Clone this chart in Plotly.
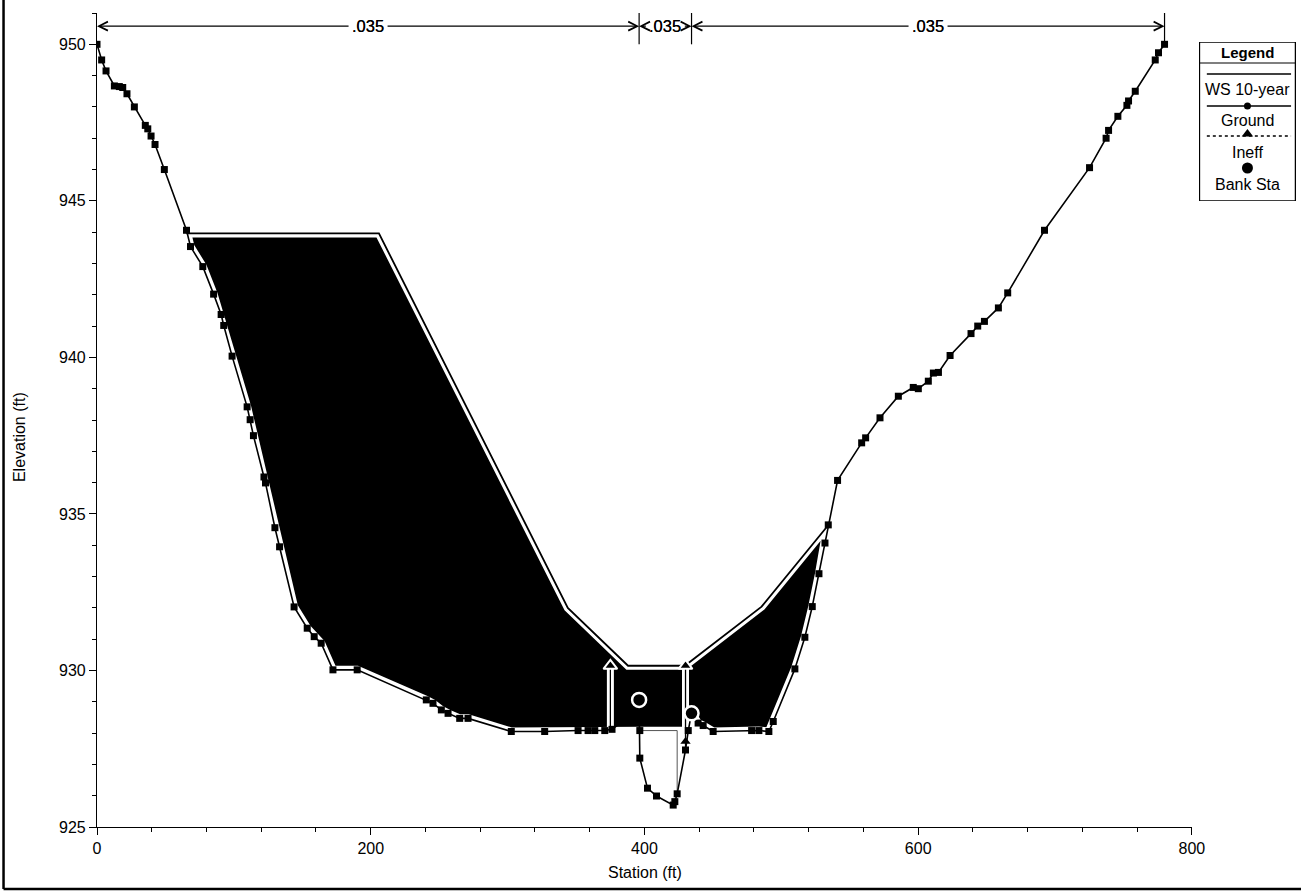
import plotly.graph_objects as go
import numpy as np

# ---------------- data ----------------
station = [0.0, 3.4, 6.6, 12.7, 16.3, 18.8, 21.9, 27.3, 35.3, 37.1, 39.5, 42.4, 49.2,
           65.4, 68.3, 77.3, 85.2, 90.7, 92.6, 98.7, 109.7, 111.9, 114.3, 122.0, 123.1,
           130.0, 133.4, 144.0, 153.6, 158.7, 163.8, 172.4, 190.1, 240.6, 245.5, 251.6,
           256.5, 265.0, 271.1, 302.7, 327.1, 351.5, 358.8, 363.7, 371.0, 376.3, 385.6,
           396.1, 396.1, 396.6, 396.6, 402.2, 408.8, 421.0, 422.2, 423.9, 430.0, 432.0,
           434.4, 439.2, 442.9, 450.2, 478.3, 483.6, 490.9, 494.1, 509.9, 517.2, 522.6,
           527.5, 531.9, 534.3, 541.1, 558.7, 561.6, 572.1, 585.5, 596.4, 600.1, 607.4,
           611.1, 614.8, 623.3, 638.6, 643.5, 648.4, 658.6, 665.4, 692.3, 725.2, 737.3,
           739.1, 745.9, 752.5, 753.7, 758.6, 773.2, 775.6, 780.0]
elevation = [950.0, 949.5, 949.15, 948.67, 948.65, 948.62, 948.42, 948.0, 947.41, 947.3,
             947.07, 946.8, 946.0, 944.06, 943.54, 942.9, 942.02, 941.37, 941.02, 940.04,
             938.42, 938.01, 937.5, 936.18, 935.99, 934.56, 933.95, 932.03, 931.35, 931.08,
             930.87, 930.02, 930.02, 929.06, 928.95, 928.74, 928.63, 928.47, 928.47, 928.05,
             928.05, 928.08, 928.08, 928.08, 928.08, 928.12, 928.42, 929.06, 928.72, 928.08,
             927.2, 926.24, 925.99, 925.7, 925.81, 926.06, 927.46, 928.08, 928.63, 928.32,
             928.24, 928.05, 928.08, 928.08, 928.05, 928.37, 930.05, 931.06, 932.04, 933.09,
             934.07, 934.65, 936.07, 937.27, 937.43, 938.07, 938.76, 939.04, 939.0, 939.24,
             939.5, 939.52, 940.06, 940.76, 941.0, 941.15, 941.58, 942.06, 944.06, 946.06,
             947.0, 947.25, 947.7, 948.05, 948.19, 948.5, 949.5, 949.73, 950.0]

ws_station = [65.4, 206.0, 344.0, 388.0, 429.5, 485.6, 533.5]
ws_elev = [943.96, 943.96, 932.0, 930.15, 930.15, 932.04, 934.6]

bank_sta = [396.1, 434.4]
bank_elev = [929.06, 928.63]

ineff_sta = [375.1, 430.0]
ineff_elev = [930.15, 930.15]
ineff_tri_sta = [430.0]
ineff_tri_elev = [927.73]

channel_floor = 928.08
floor_line_sta = [396.6, 423.9, 423.9]
floor_line_elev = [928.08, 928.08, 926.06]

n_breaks = [0.0, 396.1, 434.4, 780.0]
n_values = [".035", ".035", ".035"]
n_label_elev = 950.58

x_ticks = [0, 200, 400, 600, 800]
y_ticks = [925, 930, 935, 940, 945, 950]

legend_items = ["WS 10-year", "Ground", "Ineff", "Bank Sta"]

# ---------------- layout geometry (pixels) ----------------
# horizontal design positions are given in target-picture pixels and
# converted with KX to the page width actually laid out
W, H = 1316, 892
KX = W / 1301.0
ML = round(96 * KX)
MR, MT, MB = 0, 13, 65
PW = W - ML - MR
PH = H - MT - MB


def px_x(p):
    return (p * KX - ML) / PW


def px_y(p):
    return (H - MB - p) / PH


FONT = "Liberation Sans, Arial, sans-serif"

sta = np.array(station)
elv = np.array(elevation)

# water polygon: WS on top, ground (channel floored) beneath
left_mask = (sta >= ws_station[0]) & (sta <= ineff_sta[0])
right_mask = (sta > ineff_sta[1]) & (sta <= ws_station[-1])
bot_x = list(sta[left_mask]) + [ineff_sta[0], ineff_sta[1]] + list(sta[right_mask])
bot_y = list(elv[left_mask]) + [channel_floor, channel_floor] + list(elv[right_mask])
poly_x = list(ws_station) + bot_x[::-1] + [ws_station[0]]
poly_y = list(ws_elev) + bot_y[::-1] + [ws_elev[0]]

fig = go.Figure()

fig.add_trace(go.Scatter(x=poly_x, y=poly_y, mode="lines", fill="toself",
                         fillcolor="black", line=dict(color="white", width=8),
                         hoverinfo="skip", showlegend=False))

fig.add_trace(go.Scatter(x=floor_line_sta, y=floor_line_elev, mode="lines",
                         line=dict(color="#555555", width=1), showlegend=False))

# ineffective flow lines (white halo, then black)
ineff_base = list(np.interp(ineff_sta, sta, elv))
for s, top, base in zip(ineff_sta, ineff_elev, ineff_base):
    fig.add_trace(go.Scatter(x=[s, s], y=[base, top], mode="lines",
                             line=dict(color="white", width=7), showlegend=False))

fig.add_trace(go.Scatter(x=ws_station, y=ws_elev, mode="lines",
                         line=dict(color="black", width=1.8), name="WS 10-year",
                         showlegend=False))

for s, top, base in zip(ineff_sta, ineff_elev, ineff_base):
    fig.add_trace(go.Scatter(x=[s, s], y=[base, top], mode="lines",
                             line=dict(color="black", width=1.3), showlegend=False))
fig.add_trace(go.Scatter(x=ineff_sta, y=ineff_elev, mode="markers",
                         marker=dict(symbol="triangle-up", size=12, color="black",
                                     line=dict(color="white", width=2)),
                         showlegend=False))
fig.add_trace(go.Scatter(x=ineff_tri_sta, y=ineff_tri_elev, mode="markers",
                         marker=dict(symbol="triangle-up", size=9, color="black"),
                         showlegend=False))

fig.add_trace(go.Scatter(x=station, y=elevation, mode="lines+markers",
                         line=dict(color="black", width=1.6),
                         marker=dict(symbol="square", size=7, color="black"),
                         name="Ground", showlegend=False))

fig.add_trace(go.Scatter(x=bank_sta, y=bank_elev, mode="markers",
                         marker=dict(symbol="circle", size=14, color="black",
                                     line=dict(color="white", width=2.5)),
                         name="Bank Sta", showlegend=False))

# Manning's n annotations
for i, val in enumerate(n_values):
    a, b = n_breaks[i], n_breaks[i + 1]
    c = (a + b) / 2
    for end in (a, b):
        fig.add_annotation(x=end, y=n_label_elev, ax=c, ay=n_label_elev,
                           xref="x", yref="y", axref="x", ayref="y",
                           text=val, showarrow=True, arrowhead=5, arrowsize=1.6,
                           arrowwidth=1.1, arrowcolor="black", borderpad=3,
                           font=dict(family=FONT, size=16.5, color="black"))
for b in n_breaks[1:]:
    fig.add_shape(type="line", x0=b, x1=b, y0=950.0, y1=951.0, xref="x", yref="y",
                  line=dict(color="black", width=1.2))

# axis titles
fig.add_annotation(text="Elevation (ft)", x=px_x(18), y=px_y(437), xref="paper",
                   yref="paper", textangle=-90, showarrow=False,
                   xanchor="center", yanchor="middle",
                   font=dict(family=FONT, size=16, color="black"))
fig.add_annotation(text="Station (ft)", x=px_x(643), y=px_y(872), xref="paper",
                   yref="paper", showarrow=False, xanchor="center", yanchor="middle",
                   font=dict(family=FONT, size=16, color="black"))

# outer frame (left and bottom edges)
fx0, fx1, fy1 = px_x(2.5), px_x(1301), px_y(889)
for (x0, y0, x1, y1) in [(fx0, px_y(0), fx0, fy1), (fx0, fy1, fx1, fy1)]:
    fig.add_shape(type="line", x0=x0, y0=y0, x1=x1, y1=y1, xref="paper", yref="paper",
                  line=dict(color="black", width=2.5))

# ---------------- custom legend on an overlay axis ----------------
LB = dict(x0=1197, x1=1294, y0=42, y1=201)
lw = (LB["x1"] - LB["x0"]) * KX
lh = LB["y1"] - LB["y0"]
fig.add_shape(type="rect", x0=0.5, x1=lw - 0.5, y0=0, y1=lh, xref="x2", yref="y2",
              line=dict(color="black", width=1.5), fillcolor="white", layer="below")
fig.add_shape(type="line", x0=0, x1=lw, y0=21, y1=21, xref="x2", yref="y2",
              line=dict(color="black", width=1.2))
fig.add_annotation(text="<b>Legend</b>", x=lw / 2, y=11, xref="x2", yref="y2",
                   showarrow=False, font=dict(family=FONT, size=15, color="black"))
row_line = [32, 64, 94, 126]
row_text = [47, 78, 110, 142]
line_dash = ["solid", "solid", "dot", None]
for name, yl, yt, dash in zip(legend_items, row_line, row_text, line_dash):
    if dash is not None:
        fig.add_shape(type="line", x0=8, x1=lw - 5, y0=yl, y1=yl, xref="x2", yref="y2",
                      line=dict(color="black", width=1.3, dash=dash))
    fig.add_annotation(text=name, x=lw / 2, y=yt, xref="x2", yref="y2",
                       showarrow=False, font=dict(family=FONT, size=16, color="black"))
fig.add_trace(go.Scatter(x=[lw / 2], y=[row_line[1]], mode="markers", xaxis="x2",
                         yaxis="y2", marker=dict(symbol="circle", size=7, color="black"),
                         showlegend=False))
fig.add_trace(go.Scatter(x=[lw / 2], y=[row_line[2] - 2], mode="markers", xaxis="x2",
                         yaxis="y2", marker=dict(symbol="triangle-up", size=10, color="black"),
                         showlegend=False))
fig.add_trace(go.Scatter(x=[lw / 2], y=[row_line[3]], mode="markers", xaxis="x2",
                         yaxis="y2", marker=dict(symbol="circle", size=11, color="black"),
                         showlegend=False))

axis_common = dict(showgrid=False, zeroline=False, showline=True, linecolor="black",
                   linewidth=1.2, ticks="outside", ticklen=7, tickwidth=1.2,
                   tickcolor="black", tickfont=dict(family=FONT, size=16, color="black"))

fig.update_layout(
    width=W, height=H, autosize=False,
    margin=dict(l=ML, r=MR, t=MT, b=MB, pad=0),
    paper_bgcolor="white", plot_bgcolor="white",
    showlegend=False,
    xaxis=dict(range=[0, 800], domain=[0, px_x(1190)], tickvals=x_ticks,
               minor=dict(dtick=40, tick0=0, ticks="outside", ticklen=4,
                          tickcolor="black", tickwidth=1),
               anchor="y", **axis_common),
    yaxis=dict(range=[925, 951], tickvals=y_ticks,
               minor=dict(dtick=1, tick0=925, ticks="outside", ticklen=4,
                          tickcolor="black", tickwidth=1),
               anchor="x", **axis_common),
    xaxis2=dict(domain=[px_x(LB["x0"]), px_x(LB["x1"])], range=[0, lw], visible=False,
                anchor="y2", fixedrange=True),
    yaxis2=dict(domain=[px_y(LB["y1"]), px_y(LB["y0"])], range=[lh, 0], visible=False,
                anchor="x2", fixedrange=True),
)

fig.write_html(
    "out.html",
    config={"responsive": False, "displayModeBar": False},
    post_script="document.documentElement.style.overflow='hidden';"
                "document.body.style.margin='0';document.body.style.overflow='hidden';",
)
